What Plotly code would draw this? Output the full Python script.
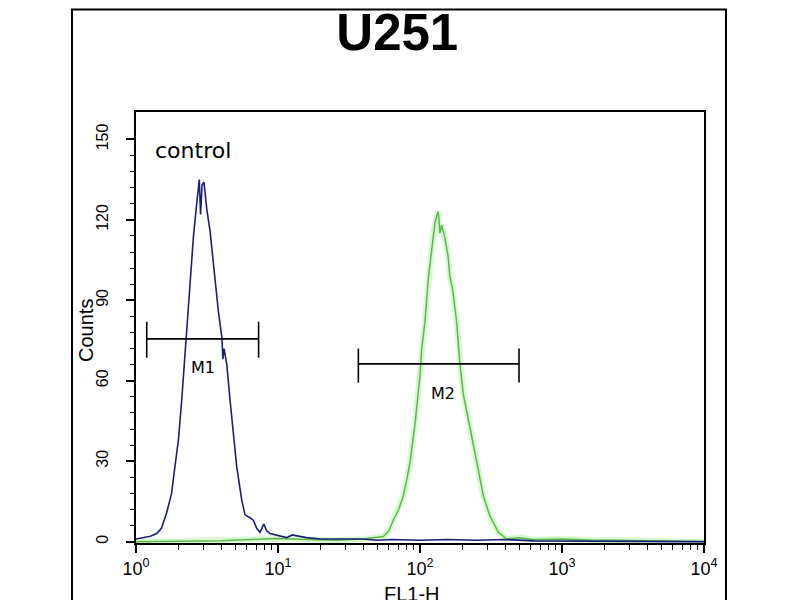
import plotly.graph_objects as go
import math

# ---- data ----
blue_x = [1.00, 1.12, 1.26, 1.40, 1.51, 1.64, 1.78, 1.88, 1.99, 2.10, 2.25, 2.40, 2.54, 2.70, 2.79,
          2.85, 2.92, 3.01, 3.15, 3.32, 3.54, 3.80, 4.03, 4.09, 4.17, 4.36, 4.59, 4.84, 5.12, 5.55,
          5.86, 6.31, 6.70, 7.08, 7.46, 7.96, 8.32, 8.79, 9.55, 10.3, 11.5, 12.6, 14.1, 15.8, 20.0,
          25.1, 31.6, 39.8, 50.1, 63.1, 100, 158, 251, 398, 631, 1000, 3162, 10000]
blue_counts = [1, 1.5, 2, 3, 5, 10.6, 18, 28, 38, 53, 75.6, 95.5, 114, 128, 135,
               122, 133, 134, 124, 116, 101, 86, 76, 68, 72, 66, 53, 40, 28, 15.6,
               10, 9, 8, 5, 3.5, 6.6, 4, 3, 2.5, 2, 1.5, 2.5, 2, 1.5, 1,
               1, 0.8, 1, 0.5, 0.8, 0.5, 0.8, 0.5, 0.8, 0.3, 0.2, 0.1, 0]

green_x = [1.00, 3.98, 7.94, 10.0, 15.8, 25.1, 39.8, 50.1, 55.2, 60.3, 64.9, 70.8, 76.2, 81.3, 85.1,
           92.3, 97.3, 100, 102.8, 108.4, 114.3, 120.8, 127.6, 131.8, 134.6, 138.0, 142.2, 150.0,
           158.1, 162.2, 169.8, 181.1, 191.4, 201.8, 218.8, 237.1, 257.0, 279.3, 311.2, 356.5,
           407.4, 501, 631, 1000, 1585, 3162, 6310, 10000]
green_counts = [0, 0.3, 1, 1.2, 0.8, 0.5, 1, 1.5, 1.9, 4, 8, 12, 17, 24, 29.6,
                44, 57, 62, 72, 82, 98, 109, 119, 122, 123, 115, 118, 113,
                106, 99, 94, 82, 66, 55, 46, 37, 27, 17, 9.5, 3.5,
                1, 1.5, 0.8, 1, 0.6, 0.4, 0.2, 0]

gate_names = ["M1", "M2"]
gate_lo = [1.19, 36.8]
gate_hi = [7.3, 498]
gate_level = [75.6, 66.3]
gate_bar_lo = [68.6, 59.3]
gate_bar_hi = [82.0, 72.0]
gate_label_x = [2.95, 145]
gate_label_y = [65, 55.4]

y_ticks = [0, 30, 60, 90, 120, 150]
y_minor = [6, 12, 18, 24, 36, 42, 48, 54, 66, 72, 78, 84, 96, 102, 108, 114, 126, 132, 138, 144]
x_ticks = [1, 10, 100, 1000, 10000]
x_ticktext = ["10<sup>0</sup>", "10<sup>1</sup>", "10<sup>2</sup>", "10<sup>3</sup>", "10<sup>4</sup>"]
x_minor = [m * d for d in [1, 10, 100, 1000] for m in range(2, 10)]

fig = go.Figure()

# green glow + line
fig.add_trace(go.Scatter(x=green_x, y=green_counts, mode="lines",
                         line=dict(color="rgba(140,235,120,0.35)", width=6), hoverinfo="skip"))
fig.add_trace(go.Scatter(x=green_x, y=green_counts, mode="lines",
                         line=dict(color="#5cb84c", width=1.5)))
# blue line
fig.add_trace(go.Scatter(x=blue_x, y=blue_counts, mode="lines",
                         line=dict(color="#1c1f78", width=1.6)))

# gates
for i in range(len(gate_names)):
    gx = [gate_lo[i], gate_hi[i], None, gate_lo[i], gate_lo[i], None, gate_hi[i], gate_hi[i]]
    gy = [gate_level[i], gate_level[i], None, gate_bar_lo[i], gate_bar_hi[i], None,
          gate_bar_lo[i], gate_bar_hi[i]]
    fig.add_trace(go.Scatter(x=gx, y=gy, mode="lines", line=dict(color="black", width=1.6)))
    fig.add_annotation(x=math.log10(gate_label_x[i]), y=gate_label_y[i], text=gate_names[i],
                       showarrow=False,
                       font=dict(family="DejaVu Sans", size=16, color="black"))

fig.add_annotation(x=0.03, y=0.945, xref="paper", yref="paper", text="control", showarrow=False,
                   xanchor="left", yanchor="top",
                   font=dict(family="DejaVu Sans", size=22, color="black"))

# axis titles placed as in the reference
fig.add_annotation(x=-0.088, y=0.492, xref="paper", yref="paper", text="Counts", showarrow=False,
                   textangle=-90, xanchor="center", yanchor="middle",
                   font=dict(family="Liberation Sans", size=20, color="black"))
fig.add_annotation(x=0.486, y=-0.088, xref="paper", yref="paper", text="FL1-H", showarrow=False,
                   xanchor="center", yanchor="top",
                   font=dict(family="Liberation Sans", size=20, color="black"))

# outer frame
fig.add_shape(type="rect", xref="paper", yref="paper", x0=-0.1127, x1=1.0387, y0=-0.3, y1=1.238,
              line=dict(color="black", width=2), fillcolor="rgba(0,0,0,0)", layer="below")

# the page places the plot 8px in from the top-left corner, so the figure is 792x592
fig.update_layout(
    width=792, height=592,
    margin=dict(l=128, r=96, t=104, b=57, autoexpand=False),
    paper_bgcolor="white", plot_bgcolor="white",
    showlegend=False,
    title=dict(text="<b>U251</b>", x=0.46, xref="paper", xanchor="center", y=0.99, yanchor="top",
               yref="container",
               font=dict(family="Liberation Sans", size=51, color="black")),
    font=dict(family="Liberation Sans", color="black"),
)

fig.update_xaxes(type="log", range=[0, 4], tickmode="array", tickvals=x_ticks, ticktext=x_ticktext,
                 ticks="outside", ticklen=8, tickwidth=1.5, tickcolor="black",
                 minor=dict(ticks="outside", ticklen=5, tickwidth=1.2, tickcolor="black",
                            tickmode="array", tickvals=x_minor, showgrid=False),
                 showline=True, linecolor="black", linewidth=2, mirror=True,
                 showgrid=False, zeroline=False, automargin=False,
                 tickfont=dict(family="Liberation Sans", size=18))

fig.update_yaxes(range=[-0.5, 160.2], tickmode="array", tickvals=y_ticks, tickangle=-90,
                 ticks="outside", ticklen=8, tickwidth=1.5, tickcolor="black",
                 minor=dict(ticks="outside", ticklen=4, tickwidth=1.2, tickcolor="black",
                            tickmode="array", tickvals=y_minor, showgrid=False),
                 showline=True, linecolor="black", linewidth=2, mirror=True,
                 showgrid=False, zeroline=False, automargin=False,
                 ticklabelstandoff=12,
                 tickfont=dict(family="Liberation Sans", size=16))

fig.write_html("out.html")
